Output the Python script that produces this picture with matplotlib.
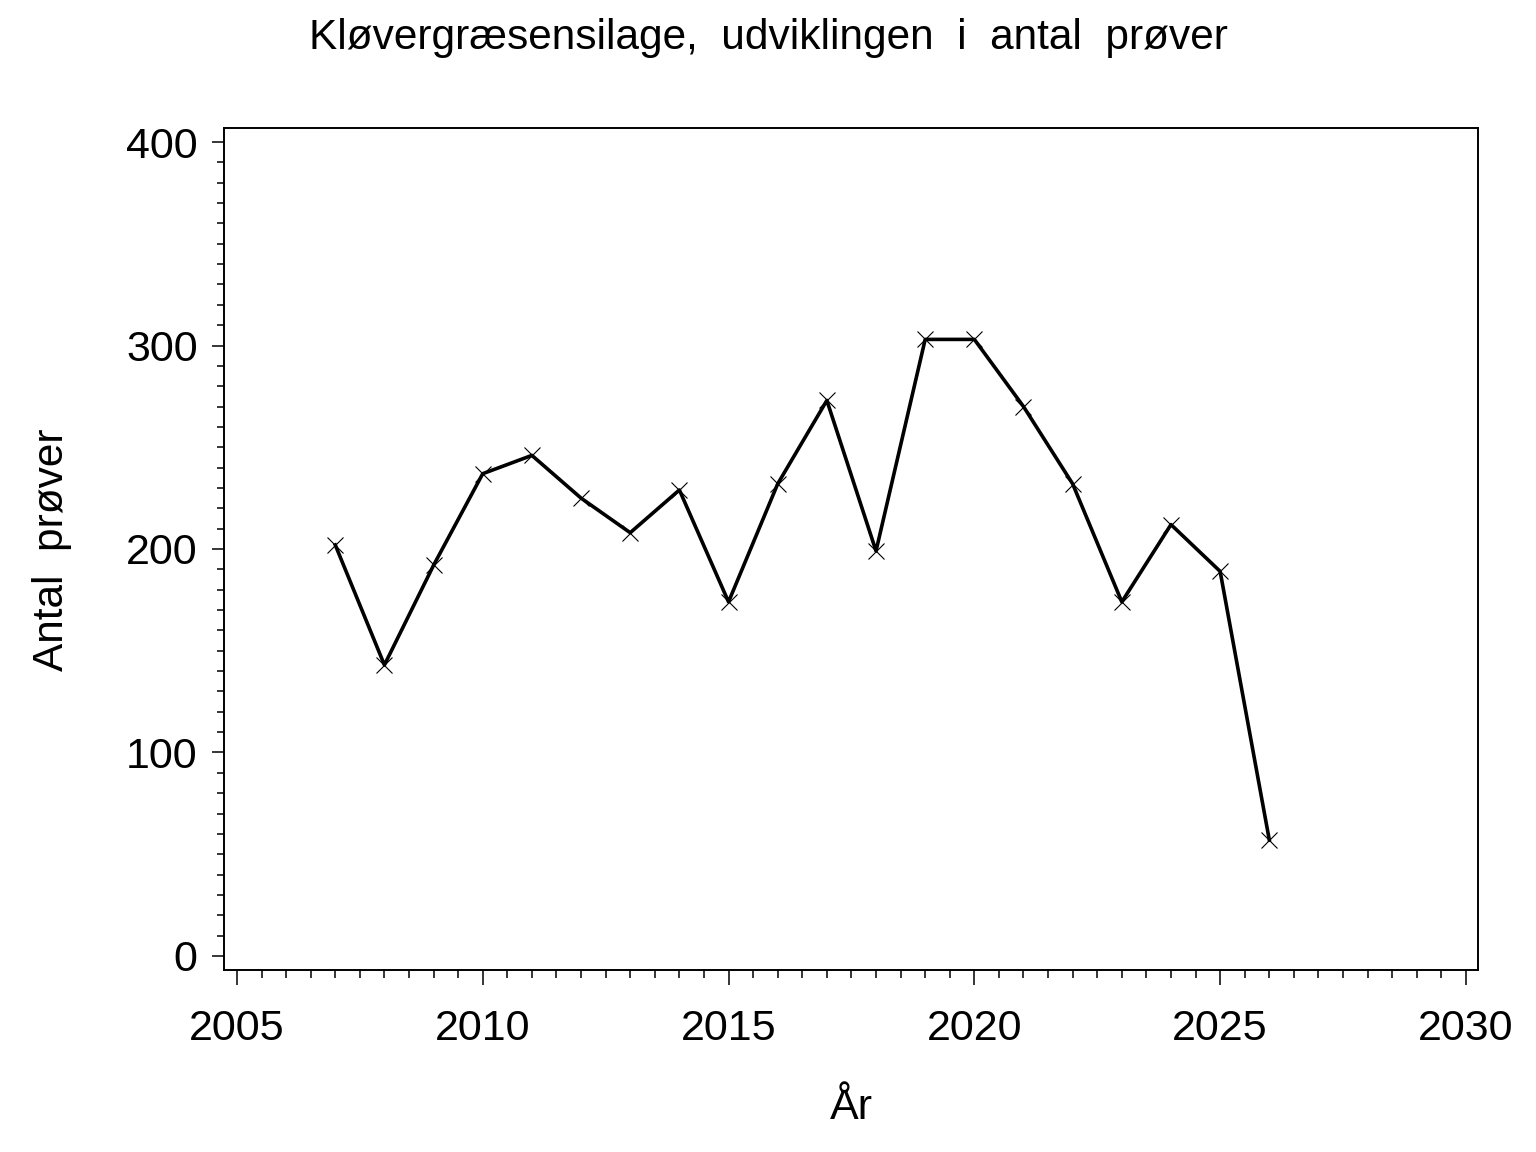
import numpy as np
import matplotlib
matplotlib.use('Agg')
import matplotlib.pyplot as plt
from matplotlib.ticker import MultipleLocator

# antal prøver pr. år
years = [2007, 2008, 2009, 2010, 2011, 2012, 2013, 2014, 2015, 2016,
         2017, 2018, 2019, 2020, 2021, 2022, 2023, 2024, 2025, 2026]
counts = [202, 143, 192, 237, 246, 225, 208, 229, 174, 232,
          273, 199, 303, 303, 270, 232, 174, 212, 189, 57]

title = 'Kløvergræsensilage,  udviklingen  i  antal  prøver'
xlabel = 'År'
ylabel = 'Antal  prøver'

plt.rcParams['font.family'] = ['Liberation Sans', 'DejaVu Sans']

fig = plt.figure(figsize=(15.36, 11.52), dpi=100)
ax = fig.add_axes([0.1458, 0.1580, 0.8164, 0.7309])

ax.plot(years, counts, color='black', linewidth=2.6,
        marker='x', markersize=12, markeredgewidth=0.8)

ax.set_xlim(2004.736, 2030.244)
ax.set_ylim(-6.9, 406.9)

ax.xaxis.set_major_locator(MultipleLocator(5))
ax.xaxis.set_minor_locator(MultipleLocator(0.5))
ax.yaxis.set_major_locator(MultipleLocator(100))
ax.yaxis.set_minor_locator(MultipleLocator(10))

ax.tick_params(axis='x', which='major', length=10.8, width=1.1, pad=17, labelsize=31)
ax.tick_params(axis='x', which='minor', length=5.8, width=1.1)
ax.tick_params(axis='y', which='major', length=9.0, width=1.1, pad=10, labelsize=31)
ax.tick_params(axis='y', which='minor', length=5.0, width=1.1)

for s in ax.spines.values():
    s.set_linewidth(1.4)

fig.text(0.5, 0.967, title, ha='center', va='center', fontsize=30.5)
fig.text(0.554, 0.038, xlabel, ha='center', va='center', fontsize=31)
fig.text(0.034, 0.523, ylabel, ha='center', va='center', rotation=90, fontsize=30.5)

fig.savefig('out.png', dpi=100)
